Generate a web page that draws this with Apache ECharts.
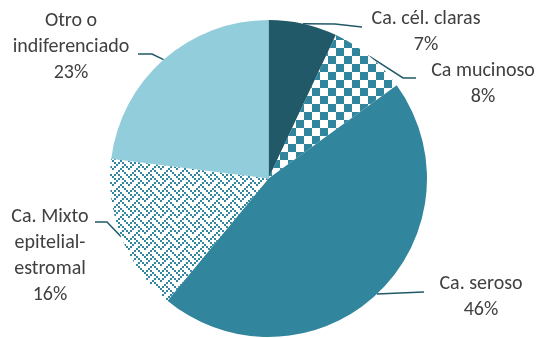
<!DOCTYPE html>
<html>
<head>
<meta charset="utf-8">
<script src="https://cdn.jsdelivr.net/npm/echarts@6/dist/echarts.min.js"></script>
<style>
  html, body { margin: 0; padding: 0; background: #ffffff; }
  #chart { width: 542px; height: 338px; }
</style>
</head>
<body>
<div id="chart"></div>
<script>
// Tumour types (clockwise from 12 o'clock) and their share in percent
const categories = [
  'Ca. cél. claras',
  'Ca mucinoso',
  'Ca. seroso',
  'Ca. Mixto\nepitelial-\nestromal',
  'Otro o\nindiferenciado'
];
const percentages = [7, 8, 46, 16, 23];

// Fill styles
const TEAL = '#31859C';
const DARK_TEAL = '#215968';
const LIGHT_BLUE = '#92CDDC';

function bitmapPattern(rows, px, fg, bg) {
  const n = rows.length;
  const c = document.createElement('canvas');
  c.width = n * px; c.height = n * px;
  const ctx = c.getContext('2d');
  ctx.fillStyle = bg; ctx.fillRect(0, 0, c.width, c.height);
  ctx.fillStyle = fg;
  rows.forEach((bits, y) => {
    for (let x = 0; x < n; x++) {
      if ((bits >> (n - 1 - x)) & 1) ctx.fillRect(x * px, y * px, px, px);
    }
  });
  return { image: c, repeat: 'repeat' };
}

// large checkerboard and weave bitmaps (8x8, drawn at 2px per bit)
const checker = bitmapPattern([0xF0,0xF0,0xF0,0xF0,0x0F,0x0F,0x0F,0x0F], 2, TEAL, '#ffffff');
const weave = bitmapPattern([0x88,0x54,0x22,0x45,0x88,0x14,0x22,0x51], 2, TEAL, '#ffffff');
const fills = [DARK_TEAL, checker, TEAL, weave, LIGHT_BLUE];

// Pie geometry
const CX = 268.5, CY = 178.5, R = 158.5;

// Label block centres and leader-line bends
const labelCentres = [[426, 31.5], [483, 83.5], [481, 297], [50, 256], [71, 46.5]];
const leaderBends = [
  [[335, 24], [362, 27]],
  [[403, 78], [416, 78]],
  [[400, 293], [424, 292]],
  [[107, 222], [95, 222]],
  [[152, 54], [138, 54]]
];

const total = percentages.reduce((a, b) => a + b, 0);
function edgePoint(i) {
  let before = 0;
  for (let k = 0; k < i; k++) before += percentages[k];
  const ang = (before + percentages[i] / 2) / total * 2 * Math.PI;
  return [CX + R * Math.sin(ang), CY - R * Math.cos(ang)];
}

const chart = echarts.init(document.getElementById('chart'), null, { renderer: 'canvas' });
chart.setOption({
  animation: false,
  series: [{
    type: 'pie',
    center: [CX, CY],
    radius: R,
    startAngle: 90,
    clockwise: true,
    data: categories.map((name, i) => ({
      name: name,
      value: percentages[i],
      itemStyle: { color: fills[i] }
    })),
    itemStyle: { borderWidth: 0 },
    label: {
      show: true,
      position: 'outside',
      formatter: p => p.name + '\n' + p.value + '%',
      color: '#404040',
      fontFamily: 'Calibri, Carlito, Lato, sans-serif',
      fontSize: 20,
      lineHeight: 26,
      align: 'center'
    },
    labelLine: {
      show: true,
      length: 10,
      length2: 10,
      lineStyle: { color: DARK_TEAL, width: 1.5 }
    },
    labelLayout: function (params) {
      const i = params.dataIndex;
      const c = labelCentres[i];
      const start = edgePoint(i);
      return {
        x: c[0],
        y: c[1],
        align: 'center',
        verticalAlign: 'middle',
        labelLinePoints: [start, leaderBends[i][0], leaderBends[i][1]]
      };
    }
  }]
});
</script>
</body>
</html>
